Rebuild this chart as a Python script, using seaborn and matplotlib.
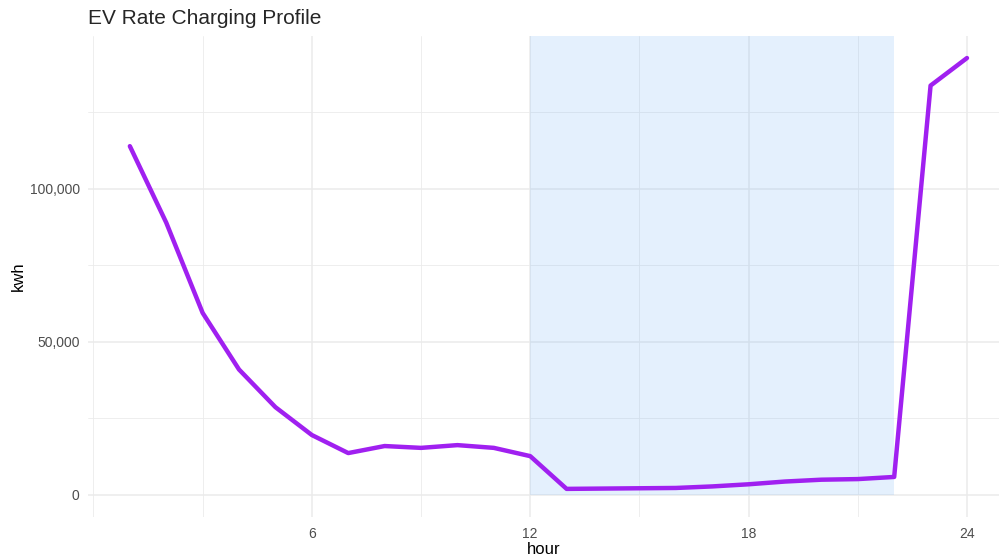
"""
EV rate charging profile by hour
"""

import matplotlib
matplotlib.use("Agg")
import matplotlib.pyplot as plt
import matplotlib.ticker as mticker
import pandas as pd
import seaborn as sns

# hourly kwh
hours = list(range(1, 25))
kwh = [114000, 89000, 59500, 41000, 28700, 19600, 13700, 16000,
       15400, 16300, 15400, 12700, 2000, 2100, 2200, 2300,
       2800, 3500, 4400, 5000, 5200, 5900, 133800, 142800]

# on-peak window
peak_start = 12
peak_end = 22

x_major = [6, 12, 18, 24]
x_minor = [0, 3, 9, 15, 21]
y_major = [0, 50000, 100000]
y_minor = [25000, 75000, 125000]

df = pd.DataFrame({"hour": hours, "kwh": kwh})

sns.set_theme(style="white")
plt.rcParams["font.family"] = ["Liberation Sans", "DejaVu Sans"]

fig = plt.figure(figsize=(9.99, 5.6), dpi=100)
ax = fig.add_axes([88 / 999, 1 - 517 / 560, 1 - 88 / 999, (517 - 36) / 560])

# grid lines (theme_minimal look)
for v in x_minor:
    ax.axvline(v, color="#EBEBEB", lw=0.6, zorder=0)
for v in x_major:
    ax.axvline(v, color="#EBEBEB", lw=1.1, zorder=0)
for v in y_minor:
    ax.axhline(v, color="#EBEBEB", lw=0.6, zorder=0)
for v in y_major:
    ax.axhline(v, color="#EBEBEB", lw=1.1, zorder=0)

ax.set_xlim(-0.15, 24.88)
ax.set_ylim(-7190, 150000)

# shaded peak window from 0 up to the top of the panel
ax.fill_between([peak_start, peak_end], 0, 150000, color="#78B4F5",
                alpha=0.2, lw=0, zorder=1)

sns.lineplot(data=df, x="hour", y="kwh", color="#A020F0", lw=3.2,
             ax=ax, zorder=3)

ax.set_xticks(x_major)
ax.set_yticks(y_major)
ax.yaxis.set_major_formatter(mticker.FuncFormatter(lambda v, p: f"{int(v):,}"))
ax.tick_params(axis="both", length=0, labelsize=10, labelcolor="#4D4D4D")
ax.tick_params(axis="x", pad=7)
ax.tick_params(axis="y", pad=6)
for s in ax.spines.values():
    s.set_visible(False)

ax.set_xlabel("hour", fontsize=12, color="black", labelpad=1)
ax.set_ylabel("kwh", fontsize=12, color="black", labelpad=3)
fig.text(88 / 999, 1 - 18 / 560, "EV Rate Charging Profile", fontsize=15,
         va="center", ha="left")

fig.savefig("out.png", dpi=100)
plt.close(fig)
